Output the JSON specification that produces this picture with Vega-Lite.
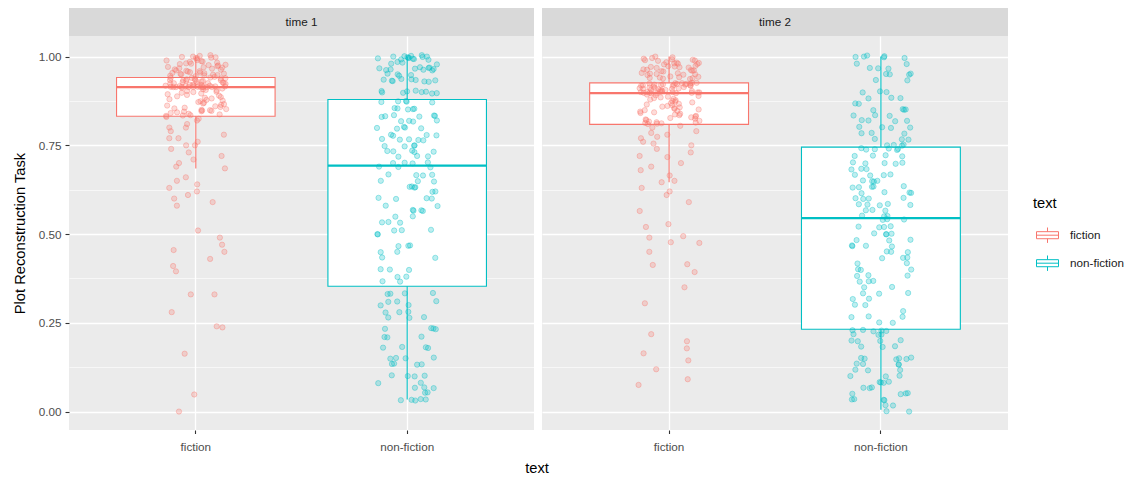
{
  "$schema": "https://vega.github.io/schema/vega-lite/v6.json",
  "padding": {"left": 12, "top": 8, "right": 5, "bottom": 5},
  "spacing": 8,
  "title": {
    "text": "text", "orient": "bottom", "anchor": "start", "frame": "group", "dx": 468, "align": "center",
    "fontSize": 14.7, "fontWeight": "normal", "color": "black", "offset": 8
  },
  "config": {
    "font": "Liberation Sans",
    "view": {"stroke": null}
  },
  "datasets": {
    "boxes": [
      {"time": "time 1", "text": "fiction", "lower": 0.685, "q1": 0.832, "median": 0.914, "q3": 0.941, "upper": 1.0},
      {"time": "time 1", "text": "non-fiction", "lower": 0.034, "q1": 0.353, "median": 0.693, "q3": 0.879, "upper": 1.0},
      {"time": "time 2", "text": "fiction", "lower": 0.646, "q1": 0.809, "median": 0.897, "q3": 0.926, "upper": 1.0},
      {"time": "time 2", "text": "non-fiction", "lower": 0.005, "q1": 0.232, "median": 0.545, "q3": 0.745, "upper": 1.0}
    ],
    "panel1": [
      {"text":"fiction","score":1.004},{"text":"fiction","score":1.002},{"text":"fiction","score":1.0},{"text":"fiction","score":0.999},{"text":"fiction","score":0.998},
      {"text":"fiction","score":0.997},{"text":"fiction","score":0.996},{"text":"fiction","score":0.995},{"text":"fiction","score":0.99},{"text":"fiction","score":0.989},
      {"text":"fiction","score":0.987},{"text":"fiction","score":0.986},{"text":"fiction","score":0.985},{"text":"fiction","score":0.983},{"text":"fiction","score":0.981},
      {"text":"fiction","score":0.98},{"text":"fiction","score":0.979},{"text":"fiction","score":0.977},{"text":"fiction","score":0.976},{"text":"fiction","score":0.975},
      {"text":"fiction","score":0.973},{"text":"fiction","score":0.971},{"text":"fiction","score":0.97},{"text":"fiction","score":0.969},{"text":"fiction","score":0.967},
      {"text":"fiction","score":0.966},{"text":"fiction","score":0.964},{"text":"fiction","score":0.963},{"text":"fiction","score":0.961},{"text":"fiction","score":0.96},
      {"text":"fiction","score":0.959},{"text":"fiction","score":0.958},{"text":"fiction","score":0.956},{"text":"fiction","score":0.955},{"text":"fiction","score":0.954},
      {"text":"fiction","score":0.953},{"text":"fiction","score":0.952},{"text":"fiction","score":0.951},{"text":"fiction","score":0.95},{"text":"fiction","score":0.949},
      {"text":"fiction","score":0.948},{"text":"fiction","score":0.947},{"text":"fiction","score":0.946},{"text":"fiction","score":0.945},{"text":"fiction","score":0.943},
      {"text":"fiction","score":0.941},{"text":"fiction","score":0.94},{"text":"fiction","score":0.94},{"text":"fiction","score":0.939},{"text":"fiction","score":0.938},
      {"text":"fiction","score":0.937},{"text":"fiction","score":0.936},{"text":"fiction","score":0.935},{"text":"fiction","score":0.934},{"text":"fiction","score":0.933},
      {"text":"fiction","score":0.933},{"text":"fiction","score":0.932},{"text":"fiction","score":0.931},{"text":"fiction","score":0.93},{"text":"fiction","score":0.929},
      {"text":"fiction","score":0.928},{"text":"fiction","score":0.927},{"text":"fiction","score":0.926},{"text":"fiction","score":0.925},{"text":"fiction","score":0.925},
      {"text":"fiction","score":0.924},{"text":"fiction","score":0.923},{"text":"fiction","score":0.922},{"text":"fiction","score":0.921},{"text":"fiction","score":0.92},
      {"text":"fiction","score":0.92},{"text":"fiction","score":0.919},{"text":"fiction","score":0.918},{"text":"fiction","score":0.918},{"text":"fiction","score":0.917},
      {"text":"fiction","score":0.917},{"text":"fiction","score":0.916},{"text":"fiction","score":0.916},{"text":"fiction","score":0.915},{"text":"fiction","score":0.915},
      {"text":"fiction","score":0.915},{"text":"fiction","score":0.914},{"text":"fiction","score":0.914},{"text":"fiction","score":0.914},{"text":"fiction","score":0.914},
      {"text":"fiction","score":0.914},{"text":"fiction","score":0.914},{"text":"fiction","score":0.914},{"text":"fiction","score":0.914},{"text":"fiction","score":0.914},
      {"text":"fiction","score":0.912},{"text":"fiction","score":0.91},{"text":"fiction","score":0.908},{"text":"fiction","score":0.906},{"text":"fiction","score":0.905},
      {"text":"fiction","score":0.903},{"text":"fiction","score":0.901},{"text":"fiction","score":0.9},{"text":"fiction","score":0.898},{"text":"fiction","score":0.896},
      {"text":"fiction","score":0.894},{"text":"fiction","score":0.892},{"text":"fiction","score":0.89},{"text":"fiction","score":0.888},{"text":"fiction","score":0.886},
      {"text":"fiction","score":0.884},{"text":"fiction","score":0.882},{"text":"fiction","score":0.88},{"text":"fiction","score":0.878},{"text":"fiction","score":0.876},
      {"text":"fiction","score":0.874},{"text":"fiction","score":0.872},{"text":"fiction","score":0.87},{"text":"fiction","score":0.868},{"text":"fiction","score":0.866},
      {"text":"fiction","score":0.864},{"text":"fiction","score":0.862},{"text":"fiction","score":0.86},{"text":"fiction","score":0.858},{"text":"fiction","score":0.856},
      {"text":"fiction","score":0.854},{"text":"fiction","score":0.852},{"text":"fiction","score":0.85},{"text":"fiction","score":0.849},{"text":"fiction","score":0.848},
      {"text":"fiction","score":0.847},{"text":"fiction","score":0.846},{"text":"fiction","score":0.845},{"text":"fiction","score":0.843},{"text":"fiction","score":0.841},
      {"text":"fiction","score":0.839},{"text":"fiction","score":0.837},{"text":"fiction","score":0.835},{"text":"fiction","score":0.834},{"text":"fiction","score":0.833},
      {"text":"fiction","score":0.83},{"text":"fiction","score":0.825},{"text":"fiction","score":0.82},{"text":"fiction","score":0.81},{"text":"fiction","score":0.8},
      {"text":"fiction","score":0.8},{"text":"fiction","score":0.79},{"text":"fiction","score":0.78},{"text":"fiction","score":0.77},{"text":"fiction","score":0.77},
      {"text":"fiction","score":0.76},{"text":"fiction","score":0.75},{"text":"fiction","score":0.75},{"text":"fiction","score":0.74},{"text":"fiction","score":0.73},
      {"text":"fiction","score":0.72},{"text":"fiction","score":0.71},{"text":"fiction","score":0.7},{"text":"fiction","score":0.69},{"text":"fiction","score":0.685},
      {"text":"fiction","score":0.66},{"text":"fiction","score":0.65},{"text":"fiction","score":0.64},{"text":"fiction","score":0.63},{"text":"fiction","score":0.62},
      {"text":"fiction","score":0.61},{"text":"fiction","score":0.6},{"text":"fiction","score":0.59},{"text":"fiction","score":0.58},{"text":"fiction","score":0.51},
      {"text":"fiction","score":0.49},{"text":"fiction","score":0.47},{"text":"fiction","score":0.455},{"text":"fiction","score":0.45},{"text":"fiction","score":0.43},
      {"text":"fiction","score":0.41},{"text":"fiction","score":0.395},{"text":"fiction","score":0.33},{"text":"fiction","score":0.33},{"text":"fiction","score":0.28},
      {"text":"fiction","score":0.24},{"text":"fiction","score":0.237},{"text":"fiction","score":0.163},{"text":"fiction","score":0.048},{"text":"fiction","score":0.0},
      {"text":"non-fiction","score":1.004},{"text":"non-fiction","score":1.002},{"text":"non-fiction","score":1.001},{"text":"non-fiction","score":1.0},{"text":"non-fiction","score":1.0},
      {"text":"non-fiction","score":0.999},{"text":"non-fiction","score":0.998},{"text":"non-fiction","score":0.997},{"text":"non-fiction","score":0.996},{"text":"non-fiction","score":0.995},
      {"text":"non-fiction","score":0.994},{"text":"non-fiction","score":0.993},{"text":"non-fiction","score":0.992},{"text":"non-fiction","score":0.991},{"text":"non-fiction","score":0.985},
      {"text":"non-fiction","score":0.983},{"text":"non-fiction","score":0.98},{"text":"non-fiction","score":0.978},{"text":"non-fiction","score":0.97},{"text":"non-fiction","score":0.969},
      {"text":"non-fiction","score":0.968},{"text":"non-fiction","score":0.967},{"text":"non-fiction","score":0.966},{"text":"non-fiction","score":0.965},{"text":"non-fiction","score":0.964},
      {"text":"non-fiction","score":0.963},{"text":"non-fiction","score":0.962},{"text":"non-fiction","score":0.961},{"text":"non-fiction","score":0.952},{"text":"non-fiction","score":0.95},
      {"text":"non-fiction","score":0.948},{"text":"non-fiction","score":0.946},{"text":"non-fiction","score":0.937},{"text":"non-fiction","score":0.936},{"text":"non-fiction","score":0.935},
      {"text":"non-fiction","score":0.934},{"text":"non-fiction","score":0.933},{"text":"non-fiction","score":0.932},{"text":"non-fiction","score":0.931},{"text":"non-fiction","score":0.93},
      {"text":"non-fiction","score":0.929},{"text":"non-fiction","score":0.904},{"text":"non-fiction","score":0.903},{"text":"non-fiction","score":0.902},{"text":"non-fiction","score":0.901},
      {"text":"non-fiction","score":0.9},{"text":"non-fiction","score":0.899},{"text":"non-fiction","score":0.898},{"text":"non-fiction","score":0.897},{"text":"non-fiction","score":0.896},
      {"text":"non-fiction","score":0.875},{"text":"non-fiction","score":0.874},{"text":"non-fiction","score":0.873},{"text":"non-fiction","score":0.872},{"text":"non-fiction","score":0.871},
      {"text":"non-fiction","score":0.855},{"text":"non-fiction","score":0.854},{"text":"non-fiction","score":0.853},{"text":"non-fiction","score":0.852},{"text":"non-fiction","score":0.851},
      {"text":"non-fiction","score":0.835},{"text":"non-fiction","score":0.834},{"text":"non-fiction","score":0.833},{"text":"non-fiction","score":0.832},{"text":"non-fiction","score":0.831},
      {"text":"non-fiction","score":0.83},{"text":"non-fiction","score":0.82},{"text":"non-fiction","score":0.819},{"text":"non-fiction","score":0.818},{"text":"non-fiction","score":0.817},
      {"text":"non-fiction","score":0.802},{"text":"non-fiction","score":0.8},{"text":"non-fiction","score":0.799},{"text":"non-fiction","score":0.798},{"text":"non-fiction","score":0.797},
      {"text":"non-fiction","score":0.78},{"text":"non-fiction","score":0.779},{"text":"non-fiction","score":0.778},{"text":"non-fiction","score":0.777},{"text":"non-fiction","score":0.768},
      {"text":"non-fiction","score":0.767},{"text":"non-fiction","score":0.766},{"text":"non-fiction","score":0.765},{"text":"non-fiction","score":0.764},{"text":"non-fiction","score":0.75},
      {"text":"non-fiction","score":0.749},{"text":"non-fiction","score":0.748},{"text":"non-fiction","score":0.747},{"text":"non-fiction","score":0.735},{"text":"non-fiction","score":0.734},
      {"text":"non-fiction","score":0.733},{"text":"non-fiction","score":0.732},{"text":"non-fiction","score":0.731},{"text":"non-fiction","score":0.72},{"text":"non-fiction","score":0.719},
      {"text":"non-fiction","score":0.718},{"text":"non-fiction","score":0.702},{"text":"non-fiction","score":0.701},{"text":"non-fiction","score":0.7},{"text":"non-fiction","score":0.699},
      {"text":"non-fiction","score":0.69},{"text":"non-fiction","score":0.689},{"text":"non-fiction","score":0.688},{"text":"non-fiction","score":0.668},{"text":"non-fiction","score":0.667},
      {"text":"non-fiction","score":0.666},{"text":"non-fiction","score":0.665},{"text":"non-fiction","score":0.65},{"text":"non-fiction","score":0.649},{"text":"non-fiction","score":0.648},
      {"text":"non-fiction","score":0.634},{"text":"non-fiction","score":0.633},{"text":"non-fiction","score":0.632},{"text":"non-fiction","score":0.631},{"text":"non-fiction","score":0.62},
      {"text":"non-fiction","score":0.619},{"text":"non-fiction","score":0.602},{"text":"non-fiction","score":0.601},{"text":"non-fiction","score":0.6},{"text":"non-fiction","score":0.599},
      {"text":"non-fiction","score":0.58},{"text":"non-fiction","score":0.579},{"text":"non-fiction","score":0.568},{"text":"non-fiction","score":0.567},{"text":"non-fiction","score":0.566},
      {"text":"non-fiction","score":0.565},{"text":"non-fiction","score":0.55},{"text":"non-fiction","score":0.549},{"text":"non-fiction","score":0.534},{"text":"non-fiction","score":0.533},
      {"text":"non-fiction","score":0.532},{"text":"non-fiction","score":0.512},{"text":"non-fiction","score":0.511},{"text":"non-fiction","score":0.51},{"text":"non-fiction","score":0.5},
      {"text":"non-fiction","score":0.499},{"text":"non-fiction","score":0.468},{"text":"non-fiction","score":0.467},{"text":"non-fiction","score":0.466},{"text":"non-fiction","score":0.45},
      {"text":"non-fiction","score":0.449},{"text":"non-fiction","score":0.434},{"text":"non-fiction","score":0.433},{"text":"non-fiction","score":0.401},{"text":"non-fiction","score":0.4},
      {"text":"non-fiction","score":0.399},{"text":"non-fiction","score":0.38},{"text":"non-fiction","score":0.379},{"text":"non-fiction","score":0.367},{"text":"non-fiction","score":0.366},
      {"text":"non-fiction","score":0.334},{"text":"non-fiction","score":0.333},{"text":"non-fiction","score":0.332},{"text":"non-fiction","score":0.331},{"text":"non-fiction","score":0.311},
      {"text":"non-fiction","score":0.31},{"text":"non-fiction","score":0.309},{"text":"non-fiction","score":0.3},{"text":"non-fiction","score":0.299},{"text":"non-fiction","score":0.281},
      {"text":"non-fiction","score":0.28},{"text":"non-fiction","score":0.279},{"text":"non-fiction","score":0.266},{"text":"non-fiction","score":0.265},{"text":"non-fiction","score":0.264},
      {"text":"non-fiction","score":0.235},{"text":"non-fiction","score":0.234},{"text":"non-fiction","score":0.233},{"text":"non-fiction","score":0.232},{"text":"non-fiction","score":0.211},
      {"text":"non-fiction","score":0.21},{"text":"non-fiction","score":0.209},{"text":"non-fiction","score":0.182},{"text":"non-fiction","score":0.181},{"text":"non-fiction","score":0.18},
      {"text":"non-fiction","score":0.179},{"text":"non-fiction","score":0.152},{"text":"non-fiction","score":0.151},{"text":"non-fiction","score":0.15},{"text":"non-fiction","score":0.149},
      {"text":"non-fiction","score":0.135},{"text":"non-fiction","score":0.134},{"text":"non-fiction","score":0.133},{"text":"non-fiction","score":0.132},{"text":"non-fiction","score":0.102},
      {"text":"non-fiction","score":0.101},{"text":"non-fiction","score":0.1},{"text":"non-fiction","score":0.099},{"text":"non-fiction","score":0.081},{"text":"non-fiction","score":0.08},
      {"text":"non-fiction","score":0.068},{"text":"non-fiction","score":0.067},{"text":"non-fiction","score":0.066},{"text":"non-fiction","score":0.054},{"text":"non-fiction","score":0.053},
      {"text":"non-fiction","score":0.035},{"text":"non-fiction","score":0.034},{"text":"non-fiction","score":0.033},{"text":"non-fiction","score":0.032},{"text":"non-fiction","score":0.031}
    ],
    "panel2": [
      {"text":"fiction","score":1.0},{"text":"fiction","score":0.998},{"text":"fiction","score":0.996},{"text":"fiction","score":0.994},{"text":"fiction","score":0.992},
      {"text":"fiction","score":0.991},{"text":"fiction","score":0.99},{"text":"fiction","score":0.989},{"text":"fiction","score":0.988},{"text":"fiction","score":0.984},
      {"text":"fiction","score":0.983},{"text":"fiction","score":0.982},{"text":"fiction","score":0.981},{"text":"fiction","score":0.98},{"text":"fiction","score":0.979},
      {"text":"fiction","score":0.978},{"text":"fiction","score":0.974},{"text":"fiction","score":0.973},{"text":"fiction","score":0.972},{"text":"fiction","score":0.971},
      {"text":"fiction","score":0.97},{"text":"fiction","score":0.969},{"text":"fiction","score":0.968},{"text":"fiction","score":0.964},{"text":"fiction","score":0.963},
      {"text":"fiction","score":0.962},{"text":"fiction","score":0.961},{"text":"fiction","score":0.96},{"text":"fiction","score":0.959},{"text":"fiction","score":0.958},
      {"text":"fiction","score":0.954},{"text":"fiction","score":0.953},{"text":"fiction","score":0.952},{"text":"fiction","score":0.951},{"text":"fiction","score":0.95},
      {"text":"fiction","score":0.949},{"text":"fiction","score":0.948},{"text":"fiction","score":0.944},{"text":"fiction","score":0.943},{"text":"fiction","score":0.942},
      {"text":"fiction","score":0.941},{"text":"fiction","score":0.94},{"text":"fiction","score":0.939},{"text":"fiction","score":0.938},{"text":"fiction","score":0.937},
      {"text":"fiction","score":0.926},{"text":"fiction","score":0.926},{"text":"fiction","score":0.925},{"text":"fiction","score":0.925},{"text":"fiction","score":0.924},
      {"text":"fiction","score":0.924},{"text":"fiction","score":0.923},{"text":"fiction","score":0.923},{"text":"fiction","score":0.922},{"text":"fiction","score":0.921},
      {"text":"fiction","score":0.921},{"text":"fiction","score":0.92},{"text":"fiction","score":0.92},{"text":"fiction","score":0.919},{"text":"fiction","score":0.919},
      {"text":"fiction","score":0.918},{"text":"fiction","score":0.918},{"text":"fiction","score":0.917},{"text":"fiction","score":0.915},{"text":"fiction","score":0.914},
      {"text":"fiction","score":0.913},{"text":"fiction","score":0.912},{"text":"fiction","score":0.911},{"text":"fiction","score":0.91},{"text":"fiction","score":0.91},
      {"text":"fiction","score":0.909},{"text":"fiction","score":0.908},{"text":"fiction","score":0.907},{"text":"fiction","score":0.906},{"text":"fiction","score":0.905},
      {"text":"fiction","score":0.904},{"text":"fiction","score":0.903},{"text":"fiction","score":0.902},{"text":"fiction","score":0.901},{"text":"fiction","score":0.9},
      {"text":"fiction","score":0.9},{"text":"fiction","score":0.9},{"text":"fiction","score":0.899},{"text":"fiction","score":0.899},{"text":"fiction","score":0.898},
      {"text":"fiction","score":0.898},{"text":"fiction","score":0.898},{"text":"fiction","score":0.897},{"text":"fiction","score":0.897},{"text":"fiction","score":0.897},
      {"text":"fiction","score":0.893},{"text":"fiction","score":0.891},{"text":"fiction","score":0.889},{"text":"fiction","score":0.887},{"text":"fiction","score":0.885},
      {"text":"fiction","score":0.883},{"text":"fiction","score":0.881},{"text":"fiction","score":0.879},{"text":"fiction","score":0.877},{"text":"fiction","score":0.875},
      {"text":"fiction","score":0.873},{"text":"fiction","score":0.871},{"text":"fiction","score":0.869},{"text":"fiction","score":0.867},{"text":"fiction","score":0.865},
      {"text":"fiction","score":0.863},{"text":"fiction","score":0.861},{"text":"fiction","score":0.859},{"text":"fiction","score":0.857},{"text":"fiction","score":0.855},
      {"text":"fiction","score":0.853},{"text":"fiction","score":0.851},{"text":"fiction","score":0.849},{"text":"fiction","score":0.847},{"text":"fiction","score":0.845},
      {"text":"fiction","score":0.843},{"text":"fiction","score":0.841},{"text":"fiction","score":0.839},{"text":"fiction","score":0.837},{"text":"fiction","score":0.835},
      {"text":"fiction","score":0.833},{"text":"fiction","score":0.831},{"text":"fiction","score":0.829},{"text":"fiction","score":0.827},{"text":"fiction","score":0.825},
      {"text":"fiction","score":0.823},{"text":"fiction","score":0.821},{"text":"fiction","score":0.819},{"text":"fiction","score":0.817},{"text":"fiction","score":0.815},
      {"text":"fiction","score":0.814},{"text":"fiction","score":0.813},{"text":"fiction","score":0.812},{"text":"fiction","score":0.811},{"text":"fiction","score":0.81},
      {"text":"fiction","score":0.805},{"text":"fiction","score":0.8},{"text":"fiction","score":0.79},{"text":"fiction","score":0.785},{"text":"fiction","score":0.78},
      {"text":"fiction","score":0.774},{"text":"fiction","score":0.77},{"text":"fiction","score":0.76},{"text":"fiction","score":0.755},{"text":"fiction","score":0.75},
      {"text":"fiction","score":0.74},{"text":"fiction","score":0.73},{"text":"fiction","score":0.72},{"text":"fiction","score":0.717},{"text":"fiction","score":0.7},
      {"text":"fiction","score":0.69},{"text":"fiction","score":0.68},{"text":"fiction","score":0.665},{"text":"fiction","score":0.65},{"text":"fiction","score":0.646},
      {"text":"fiction","score":0.63},{"text":"fiction","score":0.62},{"text":"fiction","score":0.61},{"text":"fiction","score":0.59},{"text":"fiction","score":0.565},
      {"text":"fiction","score":0.528},{"text":"fiction","score":0.52},{"text":"fiction","score":0.494},{"text":"fiction","score":0.49},{"text":"fiction","score":0.477},
      {"text":"fiction","score":0.475},{"text":"fiction","score":0.45},{"text":"fiction","score":0.415},{"text":"fiction","score":0.413},{"text":"fiction","score":0.393},
      {"text":"fiction","score":0.35},{"text":"fiction","score":0.305},{"text":"fiction","score":0.218},{"text":"fiction","score":0.198},{"text":"fiction","score":0.178},
      {"text":"fiction","score":0.164},{"text":"fiction","score":0.144},{"text":"fiction","score":0.119},{"text":"fiction","score":0.091},{"text":"fiction","score":0.075},
      {"text":"non-fiction","score":1.003},{"text":"non-fiction","score":1.001},{"text":"non-fiction","score":1.0},{"text":"non-fiction","score":0.999},{"text":"non-fiction","score":0.998},
      {"text":"non-fiction","score":0.996},{"text":"non-fiction","score":0.98},{"text":"non-fiction","score":0.979},{"text":"non-fiction","score":0.968},{"text":"non-fiction","score":0.967},
      {"text":"non-fiction","score":0.966},{"text":"non-fiction","score":0.952},{"text":"non-fiction","score":0.951},{"text":"non-fiction","score":0.95},{"text":"non-fiction","score":0.949},
      {"text":"non-fiction","score":0.934},{"text":"non-fiction","score":0.933},{"text":"non-fiction","score":0.902},{"text":"non-fiction","score":0.9},{"text":"non-fiction","score":0.899},
      {"text":"non-fiction","score":0.884},{"text":"non-fiction","score":0.883},{"text":"non-fiction","score":0.882},{"text":"non-fiction","score":0.868},{"text":"non-fiction","score":0.867},
      {"text":"non-fiction","score":0.852},{"text":"non-fiction","score":0.851},{"text":"non-fiction","score":0.85},{"text":"non-fiction","score":0.849},{"text":"non-fiction","score":0.835},
      {"text":"non-fiction","score":0.834},{"text":"non-fiction","score":0.833},{"text":"non-fiction","score":0.821},{"text":"non-fiction","score":0.82},{"text":"non-fiction","score":0.819},
      {"text":"non-fiction","score":0.818},{"text":"non-fiction","score":0.802},{"text":"non-fiction","score":0.801},{"text":"non-fiction","score":0.8},{"text":"non-fiction","score":0.799},
      {"text":"non-fiction","score":0.785},{"text":"non-fiction","score":0.784},{"text":"non-fiction","score":0.783},{"text":"non-fiction","score":0.768},{"text":"non-fiction","score":0.767},
      {"text":"non-fiction","score":0.766},{"text":"non-fiction","score":0.752},{"text":"non-fiction","score":0.751},{"text":"non-fiction","score":0.75},{"text":"non-fiction","score":0.749},
      {"text":"non-fiction","score":0.742},{"text":"non-fiction","score":0.741},{"text":"non-fiction","score":0.74},{"text":"non-fiction","score":0.739},{"text":"non-fiction","score":0.738},
      {"text":"non-fiction","score":0.737},{"text":"non-fiction","score":0.722},{"text":"non-fiction","score":0.721},{"text":"non-fiction","score":0.72},{"text":"non-fiction","score":0.719},
      {"text":"non-fiction","score":0.702},{"text":"non-fiction","score":0.701},{"text":"non-fiction","score":0.7},{"text":"non-fiction","score":0.699},{"text":"non-fiction","score":0.698},
      {"text":"non-fiction","score":0.684},{"text":"non-fiction","score":0.683},{"text":"non-fiction","score":0.682},{"text":"non-fiction","score":0.668},{"text":"non-fiction","score":0.667},
      {"text":"non-fiction","score":0.666},{"text":"non-fiction","score":0.665},{"text":"non-fiction","score":0.651},{"text":"non-fiction","score":0.65},{"text":"non-fiction","score":0.649},
      {"text":"non-fiction","score":0.648},{"text":"non-fiction","score":0.635},{"text":"non-fiction","score":0.634},{"text":"non-fiction","score":0.633},{"text":"non-fiction","score":0.632},
      {"text":"non-fiction","score":0.631},{"text":"non-fiction","score":0.618},{"text":"non-fiction","score":0.617},{"text":"non-fiction","score":0.616},{"text":"non-fiction","score":0.615},
      {"text":"non-fiction","score":0.602},{"text":"non-fiction","score":0.601},{"text":"non-fiction","score":0.6},{"text":"non-fiction","score":0.599},{"text":"non-fiction","score":0.585},
      {"text":"non-fiction","score":0.584},{"text":"non-fiction","score":0.583},{"text":"non-fiction","score":0.582},{"text":"non-fiction","score":0.581},{"text":"non-fiction","score":0.568},
      {"text":"non-fiction","score":0.567},{"text":"non-fiction","score":0.566},{"text":"non-fiction","score":0.552},{"text":"non-fiction","score":0.551},{"text":"non-fiction","score":0.55},
      {"text":"non-fiction","score":0.542},{"text":"non-fiction","score":0.541},{"text":"non-fiction","score":0.54},{"text":"non-fiction","score":0.522},{"text":"non-fiction","score":0.521},
      {"text":"non-fiction","score":0.52},{"text":"non-fiction","score":0.519},{"text":"non-fiction","score":0.502},{"text":"non-fiction","score":0.501},{"text":"non-fiction","score":0.5},
      {"text":"non-fiction","score":0.499},{"text":"non-fiction","score":0.484},{"text":"non-fiction","score":0.483},{"text":"non-fiction","score":0.482},{"text":"non-fiction","score":0.468},
      {"text":"non-fiction","score":0.467},{"text":"non-fiction","score":0.466},{"text":"non-fiction","score":0.465},{"text":"non-fiction","score":0.451},{"text":"non-fiction","score":0.45},
      {"text":"non-fiction","score":0.449},{"text":"non-fiction","score":0.434},{"text":"non-fiction","score":0.433},{"text":"non-fiction","score":0.432},{"text":"non-fiction","score":0.418},
      {"text":"non-fiction","score":0.417},{"text":"non-fiction","score":0.401},{"text":"non-fiction","score":0.4},{"text":"non-fiction","score":0.399},{"text":"non-fiction","score":0.384},
      {"text":"non-fiction","score":0.383},{"text":"non-fiction","score":0.382},{"text":"non-fiction","score":0.368},{"text":"non-fiction","score":0.367},{"text":"non-fiction","score":0.366},
      {"text":"non-fiction","score":0.351},{"text":"non-fiction","score":0.35},{"text":"non-fiction","score":0.334},{"text":"non-fiction","score":0.333},{"text":"non-fiction","score":0.332},
      {"text":"non-fiction","score":0.318},{"text":"non-fiction","score":0.317},{"text":"non-fiction","score":0.301},{"text":"non-fiction","score":0.3},{"text":"non-fiction","score":0.283},
      {"text":"non-fiction","score":0.268},{"text":"non-fiction","score":0.267},{"text":"non-fiction","score":0.266},{"text":"non-fiction","score":0.251},{"text":"non-fiction","score":0.25},
      {"text":"non-fiction","score":0.23},{"text":"non-fiction","score":0.229},{"text":"non-fiction","score":0.228},{"text":"non-fiction","score":0.227},{"text":"non-fiction","score":0.226},
      {"text":"non-fiction","score":0.218},{"text":"non-fiction","score":0.217},{"text":"non-fiction","score":0.216},{"text":"non-fiction","score":0.201},{"text":"non-fiction","score":0.2},
      {"text":"non-fiction","score":0.199},{"text":"non-fiction","score":0.198},{"text":"non-fiction","score":0.184},{"text":"non-fiction","score":0.183},{"text":"non-fiction","score":0.182},
      {"text":"non-fiction","score":0.152},{"text":"non-fiction","score":0.151},{"text":"non-fiction","score":0.15},{"text":"non-fiction","score":0.149},{"text":"non-fiction","score":0.148},
      {"text":"non-fiction","score":0.147},{"text":"non-fiction","score":0.135},{"text":"non-fiction","score":0.134},{"text":"non-fiction","score":0.133},{"text":"non-fiction","score":0.132},
      {"text":"non-fiction","score":0.118},{"text":"non-fiction","score":0.117},{"text":"non-fiction","score":0.116},{"text":"non-fiction","score":0.101},{"text":"non-fiction","score":0.1},
      {"text":"non-fiction","score":0.099},{"text":"non-fiction","score":0.084},{"text":"non-fiction","score":0.083},{"text":"non-fiction","score":0.082},{"text":"non-fiction","score":0.081},
      {"text":"non-fiction","score":0.068},{"text":"non-fiction","score":0.067},{"text":"non-fiction","score":0.066},{"text":"non-fiction","score":0.052},{"text":"non-fiction","score":0.051},
      {"text":"non-fiction","score":0.05},{"text":"non-fiction","score":0.049},{"text":"non-fiction","score":0.035},{"text":"non-fiction","score":0.034},{"text":"non-fiction","score":0.033},
      {"text":"non-fiction","score":0.032},{"text":"non-fiction","score":0.018},{"text":"non-fiction","score":0.017},{"text":"non-fiction","score":0.001},{"text":"non-fiction","score":0.0}
    ]
  },
  "hconcat": [
    {
      "bounds": "flush",
      "spacing": 0,
      "vconcat": [
        {
          "width": 465,
          "height": 28,
          "view": {"fill": "#D9D9D9", "stroke": null},
          "data": {"values": [{"label": "time 1"}]},
          "mark": {"type": "text", "fontSize": 11.7, "color": "#1A1A1A"},
          "encoding": {
            "x": {"field": "label", "type": "nominal", "axis": null, "scale": {"type": "point", "padding": 0.5}},
            "y": {"field": "label", "type": "nominal", "axis": null, "scale": {"type": "point", "padding": 0.5}},
            "text": {"field": "label"}
          }
        },
        {
          "width": 465,
          "height": 394,
          "view": {"fill": "#EBEBEB", "stroke": null},
          "resolve": {"scale": {"xOffset": "independent"}},
          "encoding": {
            "x": {
              "field": "text",
              "type": "nominal",
              "scale": {"domain": ["fiction", "non-fiction"], "paddingInner": 0.25, "paddingOuter": 0.225},
              "axis": {
                "title": null,
                "labelAngle": 0, "labelFontSize": 11.7, "labelColor": "#4D4D4D", "labelPadding": 8,
                "domain": false, "tickColor": "#333333", "tickSize": 3.5, "tickWidth": 1.1,
                "grid": true, "gridColor": "white", "gridWidth": 1.3
              }
            }
          },
          "layer": [
            {
              "data": {"name": "boxes"},
              "transform": [{"filter": "datum.time == 'time 1'"}],
              "mark": {"type": "rule", "strokeWidth": 1.1},
              "encoding": {
                "x": {"field": "text", "type": "nominal", "bandPosition": 0.5},
                "y": {"field": "lower", "type": "quantitative", "title": "Plot Reconstruction Task"},
                "y2": {"field": "upper"},
                "color": {
                  "field": "text",
                  "type": "nominal",
                  "scale": {"domain": ["fiction", "non-fiction"], "range": ["#F8766D", "#00BFC4"]},
                  "legend": {
                    "orient": "none", "legendX": 964, "legendY": 188,
                    "title": "text", "titleFontSize": 14.7, "titleFontWeight": "normal", "titleColor": "black", "titlePadding": 13,
                    "labelFontSize": 11.7, "labelColor": "#1A1A1A", "labelOffset": 11,
                    "symbolType": "M-1,-0.32H1 M1,-0.32V0.32 M1,0.32H-1 M-1,0.32V-0.32 M-1,0H1 M0,-0.7V-0.32 M0,0.32V0.7",
                    "symbolSize": 484, "symbolStrokeWidth": 1, "symbolOffset": 3, "rowPadding": 6
                  }
                }
              }
            },
            {
              "data": {"name": "boxes"},
              "transform": [{"filter": "datum.time == 'time 1'"}],
              "mark": {"type": "rect", "fill": "white"},
              "encoding": {
                "y": {"field": "q1", "type": "quantitative", "title": "Plot Reconstruction Task"},
                "y2": {"field": "q3"}
              }
            },
            {
              "data": {"name": "boxes"},
              "transform": [{"filter": "datum.time == 'time 1'"}],
              "mark": {"type": "rect", "filled": false, "strokeWidth": 1.1},
              "encoding": {
                "y": {"field": "q1", "type": "quantitative", "title": "Plot Reconstruction Task"},
                "y2": {"field": "q3"},
                "color": {"field": "text", "type": "nominal"}
              }
            },
            {
              "data": {"name": "boxes"},
              "transform": [{"filter": "datum.time == 'time 1'"}],
              "mark": {"type": "rect", "filled": false, "strokeWidth": 2.2},
              "encoding": {
                "y": {"field": "median", "type": "quantitative", "title": "Plot Reconstruction Task"},
                "y2": {"field": "median"},
                "color": {"field": "text", "type": "nominal"}
              }
            },
            {
              "data": {"name": "panel1"},
              "transform": [
                {"window": [{"op": "row_number", "as": "n"}], "groupby": ["text"]},
                {"calculate": "((sin(datum.n * 12.9898 + 78.233) * 43758.5453) % 1 + 1) % 1 - 0.5", "as": "jitter"}
              ],
              "mark": {"type": "circle", "size": 28, "fillOpacity": 0.26, "strokeOpacity": 0.4, "strokeWidth": 0.9},
              "encoding": {
                "xOffset": {"field": "jitter", "type": "quantitative", "scale": {"domain": [-1.3, 1.3]}},
                "y": {
                  "field": "score",
                  "type": "quantitative",
                  "title": "Plot Reconstruction Task",
                  "scale": {"domain": [-0.052, 1.058], "nice": false, "zero": false},
                  "axis": {
                    "titleFontSize": 14.7, "titleFontWeight": "normal", "titleColor": "black", "titlePadding": 10.5,
                    "values": [0, 0.125, 0.25, 0.375, 0.5, 0.625, 0.75, 0.875, 1],
                    "labelExpr": "datum.value % 0.25 == 0 ? format(datum.value, '.2f') : ''",
                    "labelFontSize": 11.7, "labelColor": "#4D4D4D", "labelPadding": 4,
                    "domain": false,
                    "tickColor": "#333333", "tickSize": 4, "tickWidth": 1.1,
                    "tickOpacity": {"condition": {"test": "datum.value % 0.25 == 0", "value": 1}, "value": 0},
                    "grid": true, "gridColor": "white",
                    "gridWidth": {"condition": {"test": "datum.value % 0.25 == 0", "value": 1.3}, "value": 0.6}
                  }
                },
                "fill": {
                  "field": "text",
                  "type": "nominal",
                  "scale": {"domain": ["fiction", "non-fiction"], "range": ["#F8766D", "#00BFC4"]},
                  "legend": null
                },
                "stroke": {
                  "field": "text",
                  "type": "nominal",
                  "scale": {"domain": ["fiction", "non-fiction"], "range": ["#F8766D", "#00BFC4"]},
                  "legend": null
                }
              }
            }
          ]
        }
      ]
    },
    {
      "bounds": "flush",
      "spacing": 0,
      "vconcat": [
        {
          "width": 466,
          "height": 28,
          "view": {"fill": "#D9D9D9", "stroke": null},
          "data": {"values": [{"label": "time 2"}]},
          "mark": {"type": "text", "fontSize": 11.7, "color": "#1A1A1A"},
          "encoding": {
            "x": {"field": "label", "type": "nominal", "axis": null, "scale": {"type": "point", "padding": 0.5}},
            "y": {"field": "label", "type": "nominal", "axis": null, "scale": {"type": "point", "padding": 0.5}},
            "text": {"field": "label"}
          }
        },
        {
          "width": 466,
          "height": 394,
          "view": {"fill": "#EBEBEB", "stroke": null},
          "resolve": {"scale": {"xOffset": "independent"}},
          "encoding": {
            "x": {
              "field": "text",
              "type": "nominal",
              "scale": {"domain": ["fiction", "non-fiction"], "paddingInner": 0.25, "paddingOuter": 0.225},
              "axis": {
                "title": null,
                "labelAngle": 0, "labelFontSize": 11.7, "labelColor": "#4D4D4D", "labelPadding": 8,
                "domain": false, "tickColor": "#333333", "tickSize": 3.5, "tickWidth": 1.1,
                "grid": true, "gridColor": "white", "gridWidth": 1.3
              }
            }
          },
          "layer": [
            {
              "data": {"name": "boxes"},
              "transform": [{"filter": "datum.time == 'time 2'"}],
              "mark": {"type": "rule", "strokeWidth": 1.1},
              "encoding": {
                "x": {"field": "text", "type": "nominal", "bandPosition": 0.5},
                "y": {"field": "lower", "type": "quantitative", "title": null},
                "y2": {"field": "upper"},
                "color": {"field": "text", "type": "nominal"}
              }
            },
            {
              "data": {"name": "boxes"},
              "transform": [{"filter": "datum.time == 'time 2'"}],
              "mark": {"type": "rect", "fill": "white"},
              "encoding": {
                "y": {"field": "q1", "type": "quantitative", "title": null},
                "y2": {"field": "q3"}
              }
            },
            {
              "data": {"name": "boxes"},
              "transform": [{"filter": "datum.time == 'time 2'"}],
              "mark": {"type": "rect", "filled": false, "strokeWidth": 1.1},
              "encoding": {
                "y": {"field": "q1", "type": "quantitative", "title": null},
                "y2": {"field": "q3"},
                "color": {"field": "text", "type": "nominal"}
              }
            },
            {
              "data": {"name": "boxes"},
              "transform": [{"filter": "datum.time == 'time 2'"}],
              "mark": {"type": "rect", "filled": false, "strokeWidth": 2.2},
              "encoding": {
                "y": {"field": "median", "type": "quantitative", "title": null},
                "y2": {"field": "median"},
                "color": {"field": "text", "type": "nominal"}
              }
            },
            {
              "data": {"name": "panel2"},
              "transform": [
                {"window": [{"op": "row_number", "as": "n"}], "groupby": ["text"]},
                {"calculate": "((sin(datum.n * 12.9898 + 41.377) * 43758.5453) % 1 + 1) % 1 - 0.5", "as": "jitter"}
              ],
              "mark": {"type": "circle", "size": 28, "fillOpacity": 0.26, "strokeOpacity": 0.4, "strokeWidth": 0.9},
              "encoding": {
                "xOffset": {"field": "jitter", "type": "quantitative", "scale": {"domain": [-1.3, 1.3]}},
                "y": {
                  "field": "score",
                  "type": "quantitative",
                  "title": null,
                  "scale": {"domain": [-0.052, 1.058], "nice": false, "zero": false},
                  "axis": {
                    "labels": false, "ticks": false, "domain": false,
                    "values": [0, 0.125, 0.25, 0.375, 0.5, 0.625, 0.75, 0.875, 1],
                    "grid": true, "gridColor": "white",
                    "gridWidth": {"condition": {"test": "datum.value % 0.25 == 0", "value": 1.3}, "value": 0.6}
                  }
                },
                "fill": {"field": "text", "type": "nominal", "legend": null},
                "stroke": {"field": "text", "type": "nominal", "legend": null}
              }
            }
          ]
        }
      ]
    }
  ]
}
